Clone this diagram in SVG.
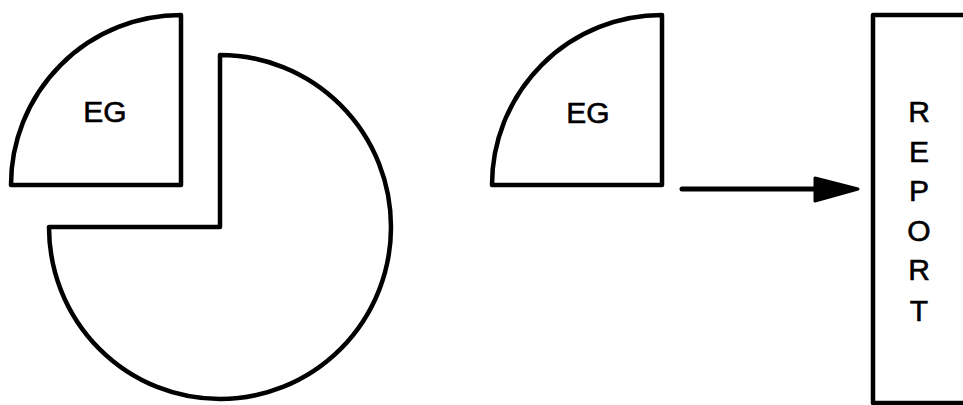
<svg xmlns="http://www.w3.org/2000/svg" width="963" height="405" viewBox="0 0 963 405">
  <style>
    .shape { fill: #fff; stroke: #000; stroke-width: 4.5; stroke-linejoin: round; }
    .lbl { font-family: "Liberation Sans", Arial, sans-serif; font-size: 30px; fill: #000; stroke: #000; stroke-width: 0.6; text-anchor: middle; }
  </style>
  <rect width="963" height="405" fill="#fff"/>
  <g id="eg-left">
    <path class="shape" d="M181,15 A170,170 0 0 0 11,185 H181 Z"/>
    <text class="lbl" x="105" y="122">EG</text>
  </g>
  <g id="pie-rest">
    <path class="shape" d="M220,227 V55 A171,172 0 1 1 49,227 Z"/>
  </g>
  <g id="eg-right">
    <path class="shape" d="M662,15 A170,170 0 0 0 492,185 H662 Z"/>
    <text class="lbl" x="588" y="123">EG</text>
  </g>
  <g id="report">
    <path d="M963,15 H873 V403 H963" fill="#fff" stroke="#000" stroke-width="4.5" stroke-linejoin="round"/>
    <text class="lbl" x="919" y="122">R</text>
    <text class="lbl" x="919" y="162">E</text>
    <text class="lbl" x="919" y="201">P</text>
    <text class="lbl" x="919" y="241">O</text>
    <text class="lbl" x="919" y="280">R</text>
    <text class="lbl" x="919" y="321">T</text>
  </g>
  <g id="connectors">
    <line x1="682" y1="189" x2="820" y2="189" stroke="#000" stroke-width="5" stroke-linecap="round"/>
    <polygon points="815,178 858,189 815,201" fill="#000" stroke="#000" stroke-width="3" stroke-linejoin="round"/>
  </g>
</svg>
